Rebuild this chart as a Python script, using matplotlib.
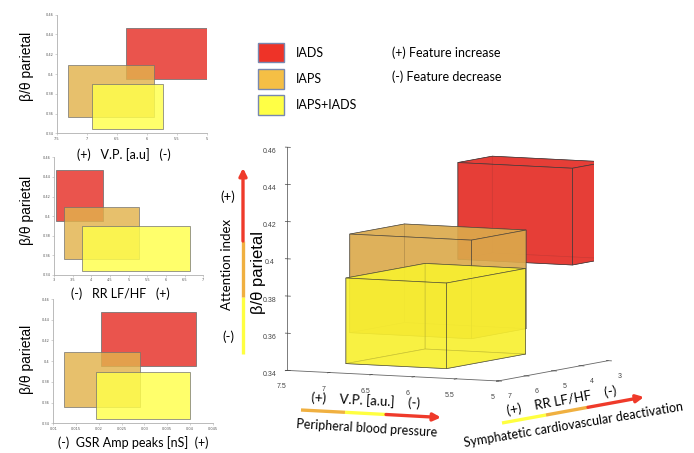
import numpy as np
import matplotlib.pyplot as plt
from matplotlib.patches import Rectangle, Patch

# box ranges (lo, hi) for IADS, IAPS, IAPS+IADS
groups = ['IADS', 'IAPS', 'IAPS+IADS']
beta_lo = [0.395, 0.356, 0.344]
beta_hi = [0.447, 0.409, 0.390]
vp_lo = [5.0, 5.88, 5.73]
vp_hi = [6.355, 7.32, 6.92]
rr_lo = [3.05, 3.28, 3.76]
rr_hi = [4.30, 5.27, 6.64]
gsr_lo = [0.0205, 0.0124, 0.0193]
gsr_hi = [0.0413, 0.0290, 0.0401]

beta_ticks = [0.34, 0.36, 0.38, 0.40, 0.42, 0.44, 0.46]
beta_labels = ['0.34', '0.36', '0.38', '0.4', '0.42', '0.44', '0.46']
vp_ticks = [7.5, 7, 6.5, 6, 5.5, 5]
rr_ticks = [3, 3.5, 4, 4.5, 5, 5.5, 6, 6.5, 7]
gsr_ticks = [0.01, 0.015, 0.02, 0.025, 0.03, 0.035, 0.04, 0.045]

face2d = ['#e9453e', '#e2b24c', '#ffff4a']
alpha2d = [0.92, 0.82, 0.82]
face3d = ['#e63a33', '#dcaa4c', '#f8f030']
alpha3d = [0.85, 0.7, 0.7]
legend_colors = ['#ee3328', '#f5bf45', '#ffff45']

W, H = 694, 453
fig = plt.figure(figsize=(W / 100, H / 100), dpi=100)
calib = 'Lato'
helv = 'Liberation Sans'


def px_rect(l, r, t, b):
    return [l / W, 1 - b / H, (r - l) / W, (b - t) / H]


def small_panel(rect, lo, hi, ticks, xlim, fmt):
    ax = fig.add_axes(rect)
    for i in range(3):
        ax.add_patch(Rectangle((lo[i], beta_lo[i]), hi[i] - lo[i], beta_hi[i] - beta_lo[i],
                               facecolor=face2d[i], alpha=alpha2d[i],
                               edgecolor='#707070', linewidth=0.6))
    ax.set_xlim(*xlim)
    ax.set_ylim(0.34, 0.46)
    ax.set_xticks(ticks)
    ax.set_xticklabels([fmt(t) for t in ticks])
    ax.set_yticks(beta_ticks)
    ax.set_yticklabels(beta_labels)
    for s in ['top', 'right']:
        ax.spines[s].set_visible(False)
    for s in ['left', 'bottom']:
        ax.spines[s].set_color('#b0b0b0')
        ax.spines[s].set_linewidth(0.6)
    ax.tick_params(labelsize=2.5, length=1.5, width=0.4, colors='#b0b0b0',
                   labelcolor='#555555', pad=1)
    ax.patch.set_alpha(0)
    return ax


small_panel(px_rect(57, 207, 14.7, 133.3), vp_lo, vp_hi, vp_ticks, (7.5, 5),
            lambda t: ('%g' % t))
small_panel(px_rect(54, 203.3, 157.3, 275), rr_lo, rr_hi, rr_ticks, (3, 7),
            lambda t: ('%g' % t))
small_panel(px_rect(53.3, 212.7, 299, 423.3), gsr_lo, gsr_hi, gsr_ticks, (0.01, 0.045),
            lambda t: ('%g' % t))

# 3D view
ax3 = fig.add_axes(px_rect(230.5, 656.5, 108, 408), projection='3d')
ax3.set_proj_type('ortho')
for i in range(3):
    ax3.bar3d(vp_lo[i], rr_lo[i], beta_lo[i], vp_hi[i] - vp_lo[i], rr_hi[i] - rr_lo[i],
              beta_hi[i] - beta_lo[i], color=face3d[i], alpha=alpha3d[i],
              edgecolor='#3a3a3a', linewidth=0.5, shade=False)
ax3.set_xlim(7.5, 5)
ax3.set_ylim(7, 3)
ax3.set_zlim(0.34, 0.46)
ax3.set_xticks([7.5, 7, 6.5, 6, 5.5, 5])
ax3.set_xticklabels(['7.5', '7', '6.5', '6', '5.5', '5'])
ax3.set_yticks([7, 6, 5, 4, 3])
ax3.set_yticklabels(['7', '6', '5', '4', '3'])
ax3.set_zticks(beta_ticks)
ax3.set_zticklabels(beta_labels)
ax3.view_init(elev=5.5, azim=-62.5)
ax3.set_box_aspect((1, 1, 0.942), zoom=1.309)
ax3.grid(False)
ax3.zaxis.set_ticks_position('upper')
for axis in (ax3.xaxis, ax3.yaxis, ax3.zaxis):
    axis.set_pane_color((1, 1, 1, 0))
    axis.pane.set_edgecolor((1, 1, 1, 0))
    axis.line.set_color('#666666')
    axis.line.set_linewidth(0.6)
    axis._axinfo['tick']['color'] = '#666666'
    axis._axinfo['tick']['linewidth'] = {True: 0.5, False: 0.5}
ax3.tick_params(labelsize=5, pad=-2, colors='#444444')
for lab in ax3.get_xticklabels() + ax3.get_yticklabels() + ax3.get_zticklabels():
    lab.set_fontfamily(helv)

# overlay in pixel coordinates for the annotations
ov = fig.add_axes([0, 0, 1, 1])
ov.set_xlim(0, W)
ov.set_ylim(H, 0)
ov.axis('off')
ov.patch.set_alpha(0)

red, orange, yellow = '#ef3a2a', '#f0b040', '#ffff40'

# legend
handles = [Patch(facecolor=c, edgecolor='#7888b0', linewidth=1) for c in legend_colors]
fig.legend(handles, groups, loc='upper left', bbox_to_anchor=(258 / W, 1 - 43 / H),
           frameon=False, borderpad=0, borderaxespad=0, fontsize=9,
           handlelength=2.1, handleheight=2.0, labelspacing=0.55, handletextpad=0.9,
           prop={'family': calib, 'size': 9})
ov.text(392, 53, '(+) Feature increase', fontsize=9, family=calib, va='center')
ov.text(392, 77, '(-) Feature decrease', fontsize=9, family=calib, va='center')

# small panel labels
for y in [66, 210, 359]:
    ov.text(27, y, 'β/θ parietal', rotation=90, fontsize=10, family=helv,
            ha='center', va='center')
ov.text(124, 155, '(+)   V.P. [a.u]   (-)', fontsize=9, family=calib, ha='center', va='center')
ov.text(120, 294, '(-)   RR LF/HF   (+)', fontsize=9, family=calib, ha='center', va='center')
ov.text(133, 443, '(-)  GSR Amp peaks [nS]  (+)', fontsize=9, family=calib,
        ha='center', va='center')

# attention index arrow
ov.plot([243, 243], [354, 297], color=yellow, lw=2.4, solid_capstyle='butt')
ov.plot([243, 243], [297, 241], color=orange, lw=2.4, solid_capstyle='butt')
ov.annotate('', xy=(243, 168), xytext=(243, 241),
            arrowprops=dict(arrowstyle='-|>', color=red, lw=2.4, mutation_scale=11,
                            shrinkA=0, shrinkB=0))
ov.text(228, 197, '(+)', fontsize=9.5, family=calib, ha='center', va='center')
ov.text(228, 337, '(-)', fontsize=9.5, family=calib, ha='center', va='center')
ov.text(227, 264, 'Attention index', rotation=90, fontsize=9.5, family=calib,
        ha='center', va='center')
ov.text(259, 272, 'β/θ parietal', rotation=90, fontsize=12, family=helv,
        ha='center', va='center')

# V.P. arrow
ov.text(366, 400, '(+)    V.P. [a.u.]    (-)', rotation=-3, fontsize=9.5, family=calib,
        ha='center', va='center', rotation_mode='anchor')
ov.plot([301, 345], [410, 412.3], color=orange, lw=2.4, solid_capstyle='butt')
ov.plot([345, 386], [412.3, 414.5], color=yellow, lw=2.4, solid_capstyle='butt')
ov.annotate('', xy=(441, 417.5), xytext=(386, 414.5),
            arrowprops=dict(arrowstyle='-|>', color=red, lw=2.4, mutation_scale=11,
                            shrinkA=0, shrinkB=0))
ov.text(367, 428, 'Peripheral blood pressure', rotation=-3.5, fontsize=9, family=calib,
        ha='center', va='center', rotation_mode='anchor')

# RR arrow
ov.text(562, 401, '(+)    RR LF/HF    (-)', rotation=10.5, fontsize=9.5, family=calib,
        ha='center', va='center', rotation_mode='anchor')
ov.plot([502, 546], [423, 415], color=yellow, lw=2.4, solid_capstyle='butt')
ov.plot([546, 588], [415, 407.3], color=orange, lw=2.4, solid_capstyle='butt')
ov.annotate('', xy=(644, 397), xytext=(588, 407.3),
            arrowprops=dict(arrowstyle='-|>', color=red, lw=2.4, mutation_scale=11,
                            shrinkA=0, shrinkB=0))
ov.text(573, 425, 'Symphatetic cardiovascular deactivation', rotation=9.5, fontsize=9,
        family=calib, ha='center', va='center', rotation_mode='anchor')

fig.savefig('out.png', dpi=100)
